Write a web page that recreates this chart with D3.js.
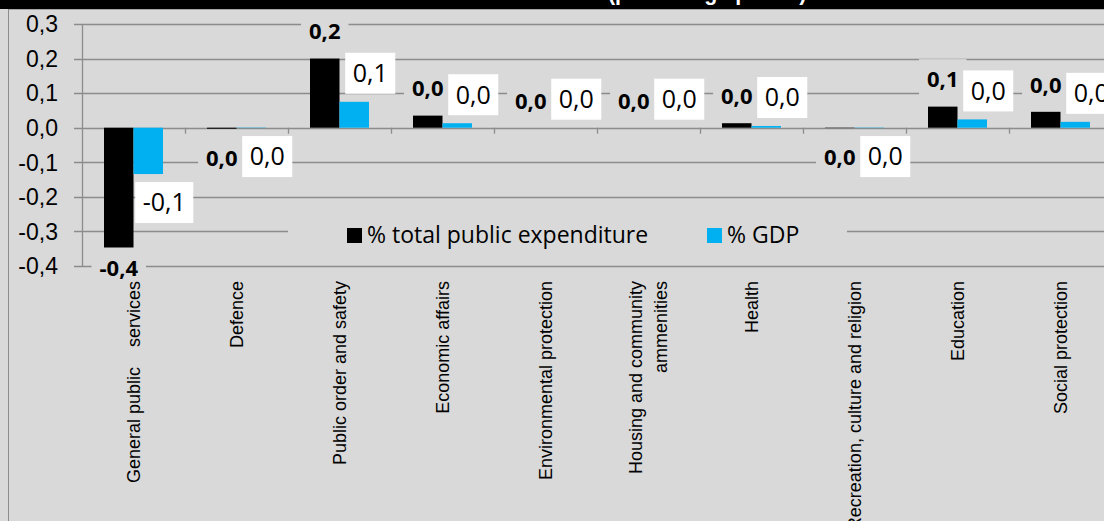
<!DOCTYPE html>
<html><head><meta charset="utf-8">
<script src="https://cdn.jsdelivr.net/npm/d3@7"></script>
<style>
body{margin:0;background:#d9d9d9;overflow:hidden}
svg{display:block}
</style>
</head><body>
<svg id="chart" width="1104" height="521"></svg>
<script>
// ---------- data ----------
const categories = [
  "General public    services",
  "Defence",
  "Public order and safety",
  "Economic affairs",
  "Environmental protection",
  "Housing and community\nammenities",
  "Health",
  "Recreation, culture and religion",
  "Education",
  "Social protection"
];
const seriesNames = ["% total public expenditure", "% GDP"];
const totalExpenditure = [-0.35, -0.003, 0.2, 0.035, 0.0, 0.0, 0.013, -0.001, 0.061, 0.046];
const gdpShare = [-0.134, -0.001, 0.075, 0.013, 0.0, 0.0, 0.005, -0.001, 0.024, 0.017];
const yTicks = [-0.4, -0.3, -0.2, -0.1, 0.0, 0.1, 0.2, 0.3];
const titleText = "(percentage points)";

// ---------- setup ----------
const W = 1104, H = 521;
const svg = d3.select("#chart");
const seriesValues = [totalExpenditure, gdpShare];
const seriesColors = ["#000000", "#00b0f0"];
const gridColor = "#8c8c8c";
const bg = "#d9d9d9";

// Excel-like rounding (half away from zero), comma decimal separator
const fmt = v => {
  const r = Math.sign(v) * Math.round(Math.abs(v) * 10 + 1e-9) / 10;
  return (r === 0 ? 0 : r).toFixed(1).replace(".", ",");
};

const x0 = d3.scaleBand().domain(categories).range([82, 1112]).padding(0);
const x1 = d3.scaleBand().domain(seriesNames).range([0, x0.bandwidth()]).paddingInner(0).paddingOuter(0.746);
const y = d3.scaleLinear().domain([-0.4, 0.3]).range([266, 24]);

// background
svg.append("rect").attr("width", W).attr("height", H).attr("fill", bg);
// title band (title is cut by the top edge)
svg.append("rect").attr("x", 0).attr("y", 0).attr("width", W).attr("height", 9).attr("fill", "#000");
svg.append("text").attr("x", 608).attr("y", 0)
  .attr("font-family", "Liberation Sans, Arial, sans-serif").attr("font-weight", "bold")
  .attr("font-size", 21.4).attr("fill", "#fff").text(titleText);
// frame
svg.append("line").attr("x1", 8).attr("x2", W).attr("y1", 9.5).attr("y2", 9.5).attr("stroke", "#a6a6a6");
svg.append("line").attr("x1", 8.5).attr("x2", 8.5).attr("y1", 9).attr("y2", H).attr("stroke", "#8c8c8c");

// gridlines
svg.append("g").selectAll("line").data(yTicks).join("line")
  .attr("x1", 74).attr("x2", W)
  .attr("y1", d => Math.round(y(d)) + 0.5).attr("y2", d => Math.round(y(d)) + 0.5)
  .attr("stroke", gridColor).attr("stroke-width", 1.3);
// y axis
svg.append("line").attr("x1", 82.5).attr("x2", 82.5)
  .attr("y1", Math.round(y(0.3)) + 0.5).attr("y2", Math.round(y(-0.4)) + 0.5)
  .attr("stroke", gridColor).attr("stroke-width", 1.3);
// y tick labels
svg.append("g").selectAll("text").data(yTicks).join("text")
  .attr("x", 58).attr("y", d => y(d) + 8.3)
  .attr("text-anchor", "end")
  .attr("font-family", "Liberation Sans Narrow, Liberation Sans, Arial, sans-serif").attr("font-size", 23)
  .attr("fill", "#000").text(d => fmt(d));
// x category ticks
svg.append("g").selectAll("line").data(categories.slice(1)).join("line")
  .attr("x1", d => Math.round(x0(d)) + 0.5).attr("x2", d => Math.round(x0(d)) + 0.5)
  .attr("y1", y(0)).attr("y2", y(0) + 6)
  .attr("stroke", gridColor).attr("stroke-width", 1.3);

// bars
seriesNames.forEach((s, si) => {
  svg.append("g").selectAll("rect").data(categories).join("rect")
    .attr("x", c => x0(c) + x1(s))
    .attr("width", x1.bandwidth())
    .attr("y", (c, i) => Math.min(y(seriesValues[si][i]), y(0)))
    .attr("height", (c, i) => Math.abs(y(seriesValues[si][i]) - y(0)))
    .attr("fill", seriesColors[si]);
});

// legend
const legend = svg.append("g");
legend.append("rect").attr("x", 288).attr("y", 212).attr("width", 559).attr("height", 40).attr("fill", bg);
const legX = [347, 707];
seriesNames.forEach((s, si) => {
  legend.append("rect").attr("x", legX[si]).attr("y", 228).attr("width", 15).attr("height", 15).attr("fill", seriesColors[si]);
  legend.append("text").attr("x", legX[si] + 20).attr("y", 243)
    .attr("font-family", "Open Sans, sans-serif").attr("font-size", 23).attr("fill", "#000").text(s);
});

// data labels
const lblG = svg.append("g");
categories.forEach((c, i) => {
  // black series labels (bold, background-coloured box)
  const v0 = totalExpenditure[i];
  const cx0 = x0(c) + x1(seriesNames[0]) + x1.bandwidth() / 2;
  const cy0 = v0 >= 0 ? y(v0) - 27 : Math.min(y(v0) + 29, 268);
  const t0 = lblG.append("text").attr("x", cx0).attr("y", cy0 + 0.714 * 22 / 2)
    .attr("text-anchor", "middle").attr("font-family", "Open Sans, sans-serif")
    .attr("font-weight", "bold").attr("font-size", 22).attr("fill", "#000").text(fmt(v0));
  const w0 = t0.node().getComputedTextLength() + 16;
  lblG.insert("rect", () => t0.node()).attr("x", cx0 - w0 / 2).attr("y", cy0 - 20.5)
    .attr("width", w0).attr("height", 41).attr("fill", bg);

  // blue series labels (white box)
  const v1 = gdpShare[i];
  const cx1 = x0(c) + x1(seriesNames[1]) + x1.bandwidth() / 2 + 16;
  const cy1 = v1 >= 0 ? y(v1) - 28.5 : y(v1) + 28.5;
  const t1 = lblG.append("text").attr("x", cx1).attr("y", cy1 + 0.714 * 25 / 2)
    .attr("text-anchor", "middle").attr("font-family", "Open Sans, sans-serif")
    .attr("font-size", 25).attr("fill", "#000").text(fmt(v1));
  const w1 = t1.node().getComputedTextLength() + 15;
  lblG.insert("rect", () => t1.node()).attr("x", cx1 - w1 / 2).attr("y", cy1 - 20.5)
    .attr("width", w1).attr("height", 41).attr("fill", "#fff");
});

// category labels (rotated)
const lineGap = 25;
categories.forEach(c => {
  const lines = c.split("\n");
  const cx = x0(c) + x0.bandwidth() / 2;
  const g = svg.append("g").attr("transform", `translate(${cx},281) rotate(-90)`);
  lines.forEach((ln, k) => {
    g.append("text")
      .attr("x", 0)
      .attr("y", (k - (lines.length - 1) / 2) * lineGap + 0.716 * 18 / 2)
      .attr("text-anchor", "end")
      .attr("xml:space", "preserve")
      .style("white-space", "pre")
      .attr("font-family", "Liberation Sans, Arial, sans-serif").attr("font-size", 18)
      .attr("fill", "#000").text(ln);
  });
});
</script>
</body></html>
